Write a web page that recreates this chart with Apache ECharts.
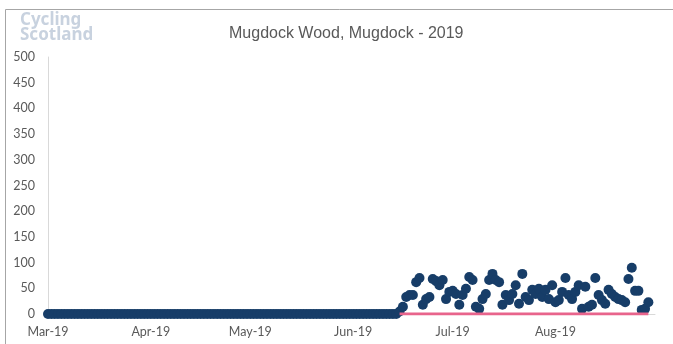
<!DOCTYPE html>
<html>
<head>
<meta charset="utf-8">
<script src="https://cdn.jsdelivr.net/npm/echarts@6/dist/echarts.min.js"></script>
<style>
html,body{margin:0;padding:0;background:#fff;}
#chart{width:673px;height:344px;}
</style>
</head>
<body>
<div id="chart"></div>
<script>
// ---- DATA ----
const chartTitle = "Mugdock Wood, Mugdock - 2019";
const startDate = "2019-03-01";
const endDate = "2019-08-31";
const monthTickLabels = ["Mar-19","Apr-19","May-19","Jun-19","Jul-19","Aug-19"];
const yTicks = [0,50,100,150,200,250,300,350,400,450,500];

// daily counts from 1 Mar 2019 (counter reading zero until mid-June)
const dailyCounts = [
  0,0,0,0,0,0,0,0,0,0, 0,0,0,0,0,0,0,0,0,0, 0,0,0,0,0,0,0,0,0,0, 0,
  0,0,0,0,0,0,0,0,0,0, 0,0,0,0,0,0,0,0,0,0, 0,0,0,0,0,0,0,0,0,0,
  0,0,0,0,0,0,0,0,0,0, 0,0,0,0,0,0,0,0,0,0, 0,0,0,0,0,0,0,0,0,0, 0,
  0,0,0,0,0,0,0,0,0,0, 0,0,0,0,
  5,14,33,37,37,62,70,18,29,33,
  68,64,56,66,29,43,45,39,18,37,
  49,72,66,14,10,29,39,66,78,66,
  62,18,37,27,39,56,20,78,33,27,
  47,39,49,33,47,29,56,23,27,43,
  70,37,29,43,56,10,53,14,18,70,
  37,27,20,47,39,33,29,27,23,68,
  90,45,45,8,10,23
];
// pink baseline series: dates it covers and its value
const baselineDates = ["2019-06-15","2019-08-29"];
const baselineValue = 0;

// ---- build categories ----
function ymd(d){
  const m = String(d.getUTCMonth()+1).padStart(2,'0');
  const day = String(d.getUTCDate()).padStart(2,'0');
  return d.getUTCFullYear()+'-'+m+'-'+day;
}
const categories = [];
for (let d = new Date(startDate+'T00:00:00Z'); d <= new Date(endDate+'T00:00:00Z'); d.setUTCDate(d.getUTCDate()+1)) {
  categories.push(ymd(d));
}
const countData = dailyCounts.map((v,i)=>[categories[i], v]);
const bStart = categories.indexOf(baselineDates[0]);
const bEnd = categories.indexOf(baselineDates[1]);
const baselineData = categories.slice(bStart, bEnd+1).map(c=>[c, baselineValue]);

const chart = echarts.init(document.getElementById('chart'), null, {renderer:'canvas'});
chart.setOption({
  animation:false,
  backgroundColor:'#ffffff',
  title:{
    text: chartTitle,
    left: 224,
    top: 21,
    textStyle:{fontFamily:'Liberation Sans', fontSize:16, fontWeight:'normal', color:'#595959'}
  },
  graphic:[
    {type:'rect', shape:{x:5.5,y:9.5,width:720,height:400}, style:{fill:'none', stroke:'#a6a6a6', lineWidth:1}, silent:true},
    {type:'text', left:20, top:12, style:{text:'Cycling', fontFamily:'Noto Sans', fontWeight:'bold', fontSize:17, fill:'#c8d2df'}},
    {type:'text', left:20, top:27, style:{text:'Scotland', fontFamily:'Noto Sans', fontWeight:'bold', fontSize:17, fill:'#c8d2df'}}
  ],
  grid:{left:48, right:18, top:57, bottom:30, containLabel:false},
  xAxis:{
    type:'category',
    data: categories,
    boundaryGap:false,
    axisLine:{show:true, lineStyle:{color:'#d9d9d9'}},
    axisTick:{show:false},
    splitLine:{show:false},
    axisLabel:{
      interval:(idx,val)=>val.endsWith('-01'),
      formatter:(val)=>monthTickLabels[Number(val.slice(5,7))-3],
      color:'#595959', fontFamily:'Lato', fontSize:12.5, margin:11
    }
  },
  yAxis:{
    type:'value',
    min:yTicks[0], max:yTicks[yTicks.length-1], interval:yTicks[1]-yTicks[0],
    axisLine:{show:true, lineStyle:{color:'#d9d9d9'}},
    axisTick:{show:false},
    splitLine:{show:false},
    axisLabel:{color:'#595959', fontFamily:'Lato', fontSize:12.5, margin:13}
  },
  series:[
    {
      name:'Count', type:'scatter', data:countData,
      symbol:'circle', symbolSize:10,
      itemStyle:{color:'#173d68', opacity:1}, z:2
    },
    {
      name:'Baseline', type:'line', data:baselineData,
      showSymbol:false, symbol:'none',
      lineStyle:{color:'#e8648c', width:3}, z:3
    }
  ]
});
</script>
</body>
</html>
